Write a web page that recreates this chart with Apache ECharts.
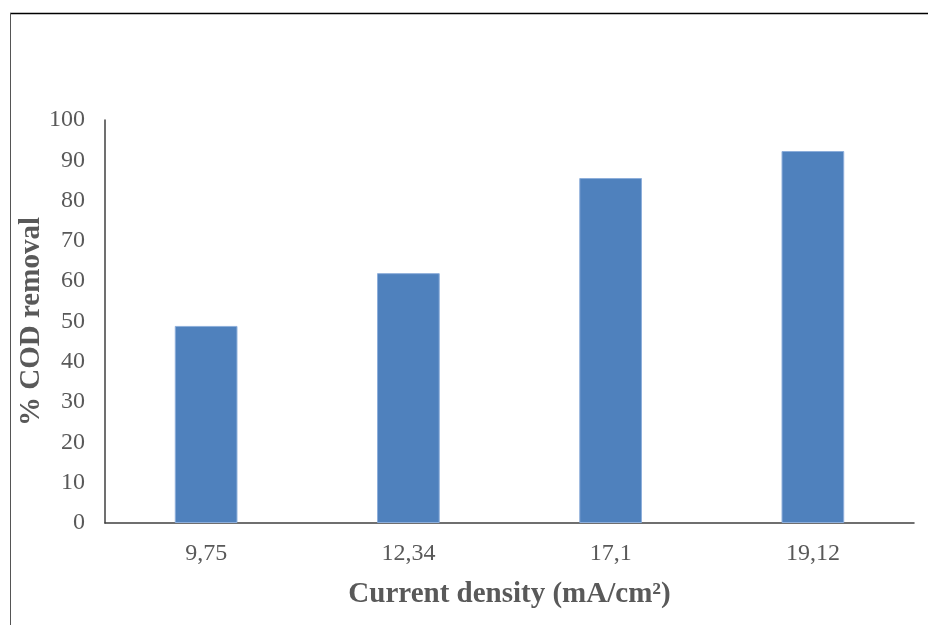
<!DOCTYPE html>
<html><head><meta charset="utf-8">
<script src="https://cdn.jsdelivr.net/npm/echarts@6/dist/echarts.min.js"></script>
<style>html,body{margin:0;padding:0;background:#fff}#c{width:929px;height:625px}</style>
</head><body><div id="c"></div>
<script>
const categories = ['9,75', '12,34', '17,1', '19,12'];
const codRemoval = [48.9, 62.0, 85.6, 92.3];
const yTicks = {min: 0, max: 100, interval: 10};

const chart = echarts.init(document.getElementById('c'), null, {renderer: 'canvas'});
const font = '"Liberation Serif", "Times New Roman", serif';
chart.setOption({
  animation: false,
  backgroundColor: '#fff',
  graphic: [
    {type: 'line', shape: {x1: 10, y1: 13.5, x2: 928, y2: 13.5}, style: {stroke: '#000', lineWidth: 1.5}},
    {type: 'line', shape: {x1: 10.5, y1: 13, x2: 10.5, y2: 625}, style: {stroke: '#555', lineWidth: 1}}
  ],
  grid: {left: 105, right: 15, top: 120, bottom: 102, containLabel: false},
  xAxis: {
    type: 'category',
    data: categories,
    axisLine: {lineStyle: {color: '#404040', width: 1.5}},
    axisTick: {show: false},
    axisLabel: {color: '#595959', fontFamily: font, fontSize: 24, margin: 19},
    name: 'Current density (mA/cm²)',
    nameLocation: 'middle',
    nameGap: 57,
    nameMoveOverlap: false,
    nameTextStyle: {color: '#595959', fontFamily: font, fontSize: 29, fontWeight: 'bold'}
  },
  yAxis: {
    type: 'value',
    min: yTicks.min, max: yTicks.max, interval: yTicks.interval,
    axisLine: {show: true, lineStyle: {color: '#404040', width: 1.5}},
    axisTick: {show: false},
    splitLine: {show: false},
    axisLabel: {color: '#595959', fontFamily: font, fontSize: 24, margin: 20},
    name: '% COD removal',
    nameLocation: 'middle',
    nameGap: 59,
    nameMoveOverlap: false,
    nameRotate: 90,
    nameTextStyle: {color: '#595959', fontFamily: font, fontSize: 29, fontWeight: 'bold'}
  },
  series: [{
    type: 'bar',
    data: codRemoval,
    barWidth: '31%',
    itemStyle: {color: '#4F81BD', borderColor: '#8DAEDA', borderWidth: 1}
  }]
});
</script></body></html>
